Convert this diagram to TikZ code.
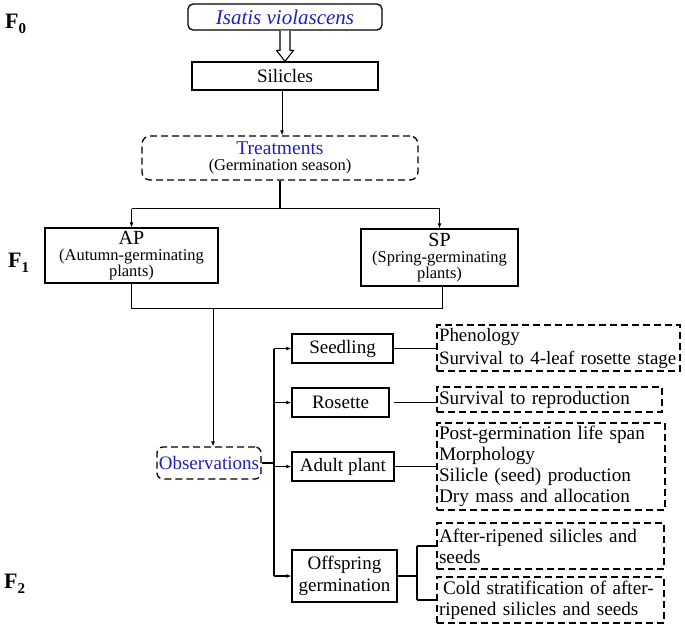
\documentclass[tikz,border=0pt]{standalone}
\usepackage{fontspec}
\setmainfont{Liberation Serif}
\newfontfamily\tnr{Liberation Serif}
\usetikzlibrary{arrows.meta,calc}
\definecolor{tblue}{RGB}{32,32,190}
\newcommand{\fsz}[2]{\tnr\fontsize{#1}{#2}\selectfont}
\begin{document}
\begin{tikzpicture}[x=1pt,y=-1pt,
  box/.style={draw, line width=1.3pt, inner sep=0pt, align=center, font=\fsz{19}{22}},
  dashbox/.style={draw, line width=1.3pt, dash pattern=on 7pt off 4pt},
  infobox/.style={dashbox, inner xsep=2pt, inner ysep=0pt, align=left, font=\fsz{19.2}{21}},
  conn/.style={line width=1.6pt},
  arr/.style={line width=1.2pt, -{Latex[length=5pt,width=4pt]}},
  thinarr/.style={line width=0.9pt, -{Latex[length=5pt,width=4pt]}},
  flabel/.style={anchor=base west, inner sep=0pt, font=\fsz{22}{22}\bfseries}
]
\useasboundingbox (0,0) rectangle (685,630);

% generation labels
\node[flabel] (f0) at (5,28) {F\raisebox{-5pt}{\fsz{15}{15}\bfseries 0}};
\node[flabel] (f1) at (8,267) {F\raisebox{-5pt}{\fsz{15}{15}\bfseries 1}};
\node[flabel] (f2) at (4,588) {F\raisebox{-5pt}{\fsz{15}{15}\bfseries 2}};

% top part
\node[box, rounded corners=5pt, minimum width=194pt, minimum height=26pt,
      font=\fsz{21}{22}\itshape, text=tblue] (isatis) at (285,17) {Isatis violascens};
\node[box, minimum width=186pt, minimum height=28pt] (sil) at (285,76) {Silicles};
\node[box, dashbox, rounded corners=8pt, minimum width=276pt, minimum height=44pt,
      font=\fsz{16.5}{16.5}] (treat) at (280,158)
      {{\fsz{19.5}{16.5}\color{tblue}Treatments}\\(Germination season)};

\node[box, minimum width=173pt, minimum height=55pt, font=\fsz{16.5}{16}] (ap) at (131.5,255.5)
      {{\fsz{20}{16}AP}\\(Autumn-germinating\\plants)};
\node[box, minimum width=157pt, minimum height=57pt, font=\fsz{16.5}{16}] (sp) at (439.5,257.5)
      {{\fsz{20}{16}SP}\\(Spring-germinating\\plants)};

\node[box, dashbox, rounded corners=6pt, minimum width=104pt, minimum height=32pt,
      text=tblue] (obs) at (209,463) {Observations};

% observation categories
\node[box, minimum width=101pt, minimum height=29pt] (seed) at (342.5,348.5) {Seedling};
\node[box, minimum width=97pt, minimum height=29pt] (ros) at (340.5,402.5) {Rosette};
\node[box, minimum width=102pt, minimum height=29pt] (adult) at (343,466.5) {Adult plant};
\node[box, minimum width=105pt, minimum height=52pt] (off) at (344.5,576) {Offspring\\germination};

% measured traits
\node[infobox, text width=239pt, minimum height=46pt, font=\fsz{18.9}{23}] (phen) at (558.5,348)
      {\mbox{Phenology}\\\mbox{Survival to 4-leaf rosette stage}};
\node[infobox, text width=221pt, minimum height=25pt] (surv) at (549.5,399.5)
      {Survival to reproduction};
\node[infobox, text width=224pt, minimum height=87pt] (adinfo) at (551,466.5)
      {Post-germination life span\\Morphology\\Silicle (seed) production\\Dry mass and allocation};
\node[infobox, text width=223pt, minimum height=46pt] (after) at (550.5,546)
      {After-ripened silicles and\\seeds};
\node[infobox, text width=223pt, minimum height=46pt] (cold) at (550.5,600)
      {\hspace*{4pt}Cold stratification of after-\\ripened silicles and seeds};

% hollow arrow from species to silicles
\draw[line width=1.1pt, fill=white, line join=miter]
  ($(isatis.south)+(-5,0)$) -- ($(sil.north)+(-5,-11)$) -- ($(sil.north)+(-8.5,-11)$)
  -- (sil.north) -- ($(sil.north)+(8.5,-11)$) -- ($(sil.north)+(5,-11)$)
  -- ($(isatis.south)+(5,0)$);

\coordinate (s1) at ($(sil.south)+(-3,0)$);
\draw[thinarr] (s1) -- (s1 |- treat.north);

% treatments to AP / SP
\draw[conn] (treat.south) -- ++(0,28) coordinate (j1);
\draw[conn] (ap.north |- j1) -- (sp.north |- j1);
\draw[thinarr] (ap.north |- j1) -- (ap.north);
\draw[thinarr] (sp.north |- j1) -- (sp.north);

% AP / SP to observations
\coordinate (spb) at ($(sp.south)+(3,0)$);
\draw[conn] (ap.south) -- ++(0,25) coordinate (j2) -- (spb |- j2) -- (spb);
\coordinate (obt) at ($(obs.north)+(4,0)$);
\draw[thinarr] (obt |- j2) -- (obt);

% observation trunk
\coordinate (trunk) at (274,466);
\draw[conn] (obs.east) -- (obs.east -| trunk);
\draw[conn] (trunk |- seed) -- (trunk |- off);
\draw[arr] (trunk |- seed) -- (seed.west);
\draw[arr] (trunk |- ros) -- (ros.west);
\draw[arr] (trunk |- adult) -- (adult.west);
\draw[arr] (trunk |- off) -- (off.west);

% categories to traits
\coordinate (rose) at ($(ros.east)+(4,0)$);
\draw[conn] (seed.east) -- (seed.east -| phen.west);
\draw[conn] (rose) -- (rose -| surv.west);
\draw[conn] (adult.east) -- (adult.east -| adinfo.west);
\coordinate (ob) at (417,576);
\draw[conn] (off.east) -- (off.east -| ob);
\draw[conn] (ob |- after) -- (ob |- cold);
\draw[conn] (ob |- after) -- (after.west);
\draw[conn] (ob |- cold) -- (cold.west);
\end{tikzpicture}
\end{document}
